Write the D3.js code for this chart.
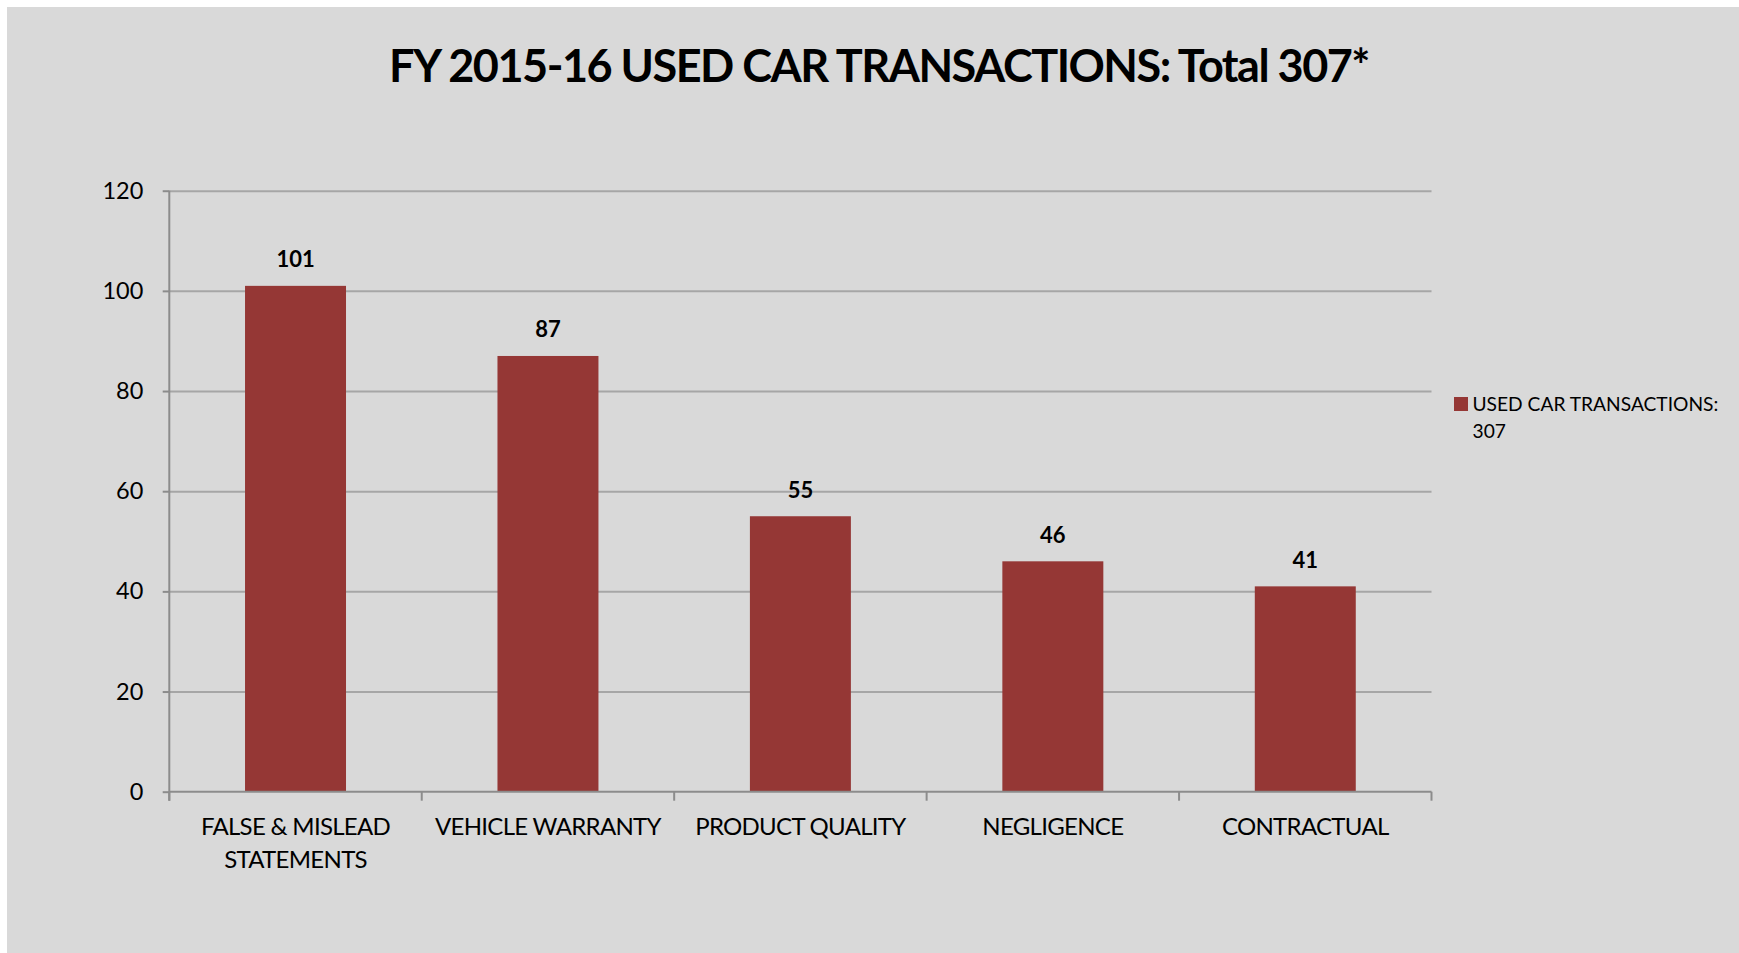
<!DOCTYPE html>
<html>
<head>
<meta charset="utf-8">
<script src="https://cdn.jsdelivr.net/npm/d3@7"></script>
<style>
  body { margin: 0; background: #ffffff; }
  svg { display: block; font-family: Lato, "Open Sans", sans-serif; }
  .grid line { stroke: #a6a6a6; stroke-width: 2; }
  .grid path { display: none; }
  .yaxis path { display: none; }
  .yaxis line { stroke: #8c8c8c; stroke-width: 2; }
  .yaxis text { fill: #000; font-size: 23.5px; font-family: Lato, "Open Sans", sans-serif; }
</style>
</head>
<body>
<svg id="chart" width="1739" height="953"></svg>
<script>
// Daten
const categories = ["FALSE & MISLEAD\nSTATEMENTS", "VEHICLE WARRANTY", "PRODUCT QUALITY", "NEGLIGENCE", "CONTRACTUAL"];
const values = [101, 87, 55, 46, 41];
const yTicks = [0, 20, 40, 60, 80, 100, 120];
const seriesName = ["USED CAR TRANSACTIONS:", "307"];
const title = "FY 2015-16 USED CAR TRANSACTIONS: Total 307*";

const data = categories.map(function (c, i) { return { cat: c, val: values[i] }; });

let svg = d3.select("#chart"),
    plot = { left: 169.3, top: 190.7, right: 1431.5, bottom: 791.7 },
    barColor = "#953735",
    axisColor = "#8c8c8c";

// Hintergrund
svg.append("rect")
    .attr("x", 7).attr("y", 7)
    .attr("width", 1739 - 7).attr("height", 953 - 7)
    .attr("fill", "#d9d9d9");

// Titel
svg.append("text")
    .attr("x", 879).attr("y", 82.3)
    .attr("text-anchor", "middle")
    .attr("font-size", 45).attr("font-weight", "bold")
    .attr("letter-spacing", -1.5)
    .attr("fill", "#000")
    .text(title);

// Skalen
let xScale = d3.scaleBand()
    .domain(categories)
    .range([plot.left, plot.right])
    .paddingInner(0.6)
    .paddingOuter(0.3);

let yScale = d3.scaleLinear()
    .domain([0, 120])
    .range([plot.bottom, plot.top]);

// Gitterlinien
svg.append("g")
    .attr("class", "grid")
    .attr("transform", `translate(${plot.left},0)`)
    .call(d3.axisLeft(yScale)
        .tickValues(yTicks.filter(function (d) { return d > 0; }))
        .tickSize(-(plot.right - plot.left))
        .tickFormat(""));

// Y-Achse
svg.append("g")
    .attr("class", "yaxis")
    .attr("transform", `translate(${plot.left},0)`)
    .call(d3.axisLeft(yScale)
        .tickValues(yTicks)
        .tickSize(6.6)
        .tickPadding(19.4));

svg.append("line")
    .attr("x1", plot.left).attr("x2", plot.left)
    .attr("y1", plot.top).attr("y2", plot.bottom + 9)
    .attr("stroke", axisColor).attr("stroke-width", 2);

// Balken
svg.selectAll(".bar")
    .data(data)
    .enter()
    .append("rect")
    .attr("class", "bar")
    .attr("x", function (d) { return xScale(d.cat); })
    .attr("y", function (d) { return yScale(d.val); })
    .attr("width", xScale.bandwidth())
    .attr("height", function (d) { return yScale(0) - yScale(d.val); })
    .attr("fill", barColor);

// Datenbeschriftung
svg.selectAll(".vlabel")
    .data(data)
    .enter()
    .append("text")
    .attr("class", "vlabel")
    .attr("x", function (d) { return xScale(d.cat) + xScale.bandwidth() / 2; })
    .attr("y", function (d) { return yScale(d.val) - 18.6; })
    .attr("text-anchor", "middle")
    .attr("font-size", 22).attr("font-weight", "bold")
    .text(function (d) { return d.val; });

// X-Achse
let step = xScale.step(),
    boundaries = d3.range(categories.length + 1).map(function (i) { return plot.left + i * step; });

svg.append("line")
    .attr("x1", plot.left).attr("x2", plot.right)
    .attr("y1", plot.bottom).attr("y2", plot.bottom)
    .attr("stroke", axisColor).attr("stroke-width", 2);

svg.selectAll(".xtick")
    .data(boundaries)
    .enter()
    .append("line")
    .attr("class", "xtick")
    .attr("x1", function (d) { return d; }).attr("x2", function (d) { return d; })
    .attr("y1", plot.bottom).attr("y2", plot.bottom + 9)
    .attr("stroke", axisColor).attr("stroke-width", 2);

let xLabels = svg.selectAll(".xlabel")
    .data(data)
    .enter()
    .append("text")
    .attr("class", "xlabel")
    .attr("text-anchor", "middle")
    .attr("font-size", 24)
    .attr("letter-spacing", -0.7)
    .attr("fill", "#000");

xLabels.selectAll("tspan")
    .data(function (d) {
        return d.cat.split("\n").map(function (line, i) {
            return { line: line, i: i, x: xScale(d.cat) + xScale.bandwidth() / 2 };
        });
    })
    .enter()
    .append("tspan")
    .attr("x", function (t) { return t.x; })
    .attr("y", function (t) { return 835 + t.i * 32.7; })
    .text(function (t) { return t.line; });

// Legende
let legend = svg.append("g").attr("class", "legend");
legend.append("rect")
    .attr("x", 1454).attr("y", 397)
    .attr("width", 14).attr("height", 14)
    .attr("fill", barColor);
legend.selectAll("text")
    .data(seriesName)
    .enter()
    .append("text")
    .attr("x", 1472.5)
    .attr("y", function (d, i) { return 410.5 + i * 27.5; })
    .attr("font-size", 19.2)
    .attr("fill", "#000")
    .text(function (d) { return d; });
</script>
</body>
</html>
